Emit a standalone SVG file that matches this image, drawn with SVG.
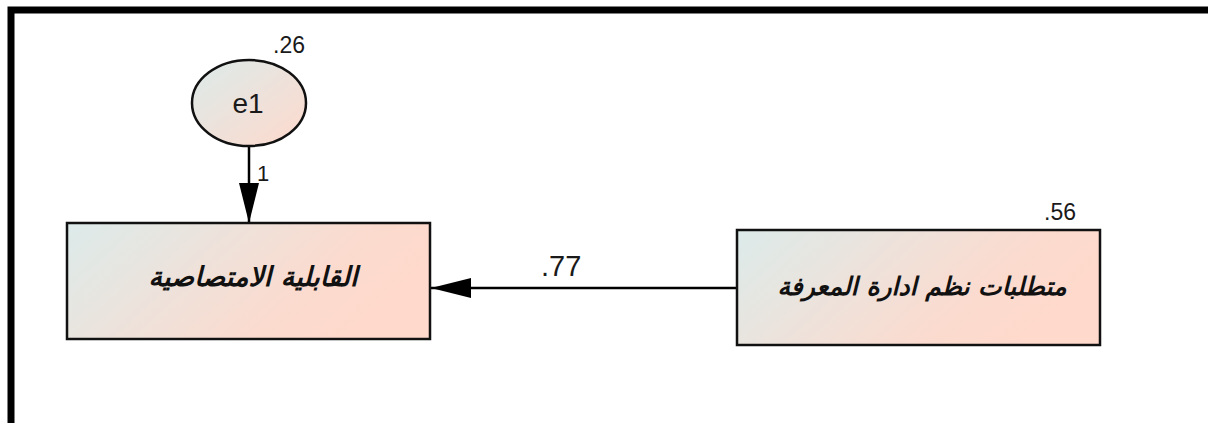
<svg xmlns="http://www.w3.org/2000/svg" width="1208" height="423" viewBox="0 0 1208 423">
  <defs>
    <linearGradient id="boxFill" x1="0" y1="0" x2="1" y2="0.35">
      <stop offset="0" stop-color="#dcebea"/>
      <stop offset="0.75" stop-color="#fbdbcf"/>
      <stop offset="1" stop-color="#fed9cc"/>
    </linearGradient>
    <linearGradient id="ovalFill" x1="0" y1="0" x2="1" y2="1">
      <stop offset="0" stop-color="#dcebea"/>
      <stop offset="1" stop-color="#fed9cc"/>
    </linearGradient>
    <marker id="arrow" viewBox="0 0 40 20" refX="40" refY="10" markerWidth="40" markerHeight="20" markerUnits="userSpaceOnUse" orient="auto">
      <path d="M0,0 L40,10 L0,20 Z" fill="#000"/>
    </marker>
    <style>
      .frame { fill: none; stroke: #000; stroke-width: 7; }
      .box { fill: url(#boxFill); stroke: #111; stroke-width: 2.5; }
      .oval { fill: url(#ovalFill); stroke: #111; stroke-width: 2.5; }
      .edge { fill: none; stroke: #000; stroke-width: 2.5; marker-end: url(#arrow); }
      .num { font-family: "Liberation Sans", Arial, sans-serif; fill: #1a1a1a; }
      .ar { font-family: "DejaVu Sans", "Noto Sans", sans-serif; font-weight: bold; font-style: italic; fill: #111; text-anchor: middle; direction: rtl; }
    </style>
  </defs>

  <rect width="1208" height="423" fill="#fff"/>
  <!-- outer frame, running past the right and bottom edges -->
  <rect class="frame" x="11" y="10" width="1220" height="440"/>

  <g id="connectors">
    <line class="edge" x1="249" y1="147" x2="249" y2="223"/>
    <text class="num" x="257" y="181" font-size="22">1</text>
    <line class="edge" x1="737" y1="288" x2="431" y2="288"/>
    <text class="num" x="541" y="276" font-size="29">.77</text>
  </g>

  <g id="e1">
    <ellipse class="oval" cx="249" cy="103" rx="57" ry="43"/>
    <text class="num" x="248" y="113" font-size="28" text-anchor="middle">e1</text>
    <text class="num" x="273" y="53" font-size="23">.26</text>
  </g>

  <g id="absorptive-capacity">
    <rect class="box" x="67" y="223" width="363" height="116"/>
    <text class="ar" x="253" y="286" font-size="27">القابلية الامتصاصية</text>
  </g>

  <g id="km-requirements">
    <rect class="box" x="737" y="230" width="363" height="115"/>
    <text class="ar" x="922" y="295" font-size="25">متطلبات نظم ادارة المعرفة</text>
    <text class="num" x="1044" y="220" font-size="23">.56</text>
  </g>
</svg>
